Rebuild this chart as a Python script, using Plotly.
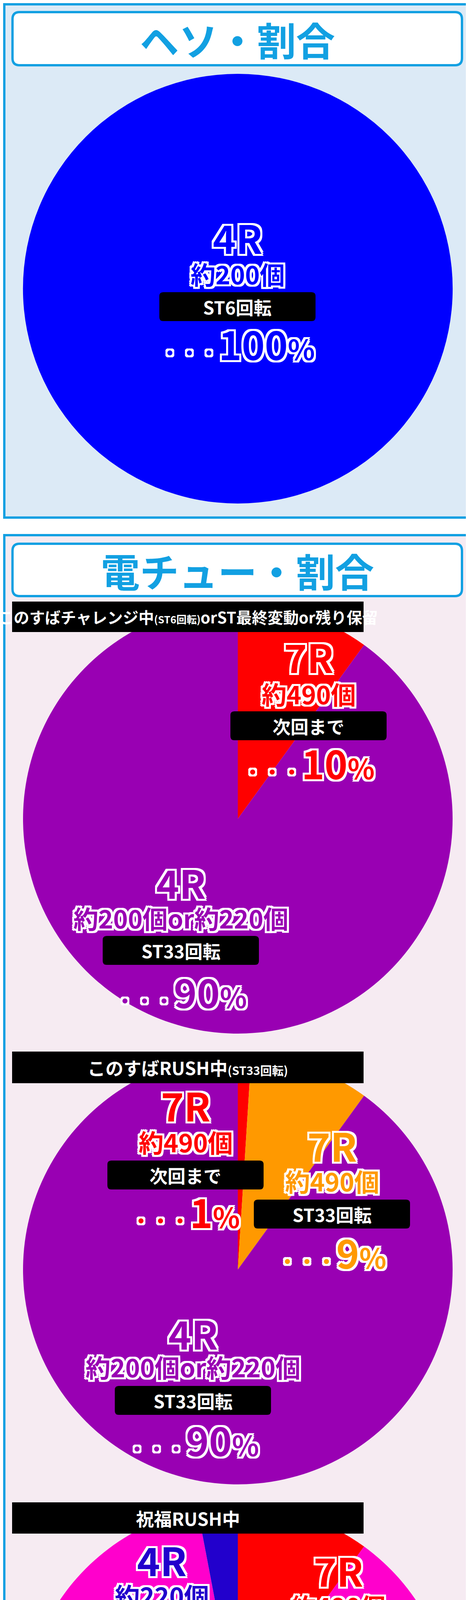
import plotly.graph_objects as go

# data
heso_labels = ["4R 約200個 ST6回転"]
heso_values = [100]
heso_colors = ["#0000ff"]

chal_labels = ["7R 約490個 次回まで", "4R 約200個or約220個 ST33回転"]
chal_values = [10, 90]
chal_colors = ["#ff0000", "#9900b3"]

rush_labels = ["7R 約490個 次回まで", "7R 約490個 ST33回転", "4R 約200個or約220個 ST33回転"]
rush_values = [1, 9, 90]
rush_colors = ["#ff0000", "#ff9900", "#9900b3"]

shuku_labels = ["7R 約490個 次回まで", "4R 約200個or約220個 次回まで", "4R 約220個 ST33回転"]
shuku_values = [10, 87, 3]
shuku_colors = ["#ff0000", "#ff00cc", "#2200cc"]

W, H = 1201, 5025
FONT = "Noto Sans CJK JP"
CYAN = "#12a0e2"
R = 550
CX = 601

fig = go.Figure()


def add_pie(labels, values, colors, cy):
    fig.add_trace(go.Pie(
        labels=labels, values=values, sort=False, direction="clockwise",
        rotation=0, marker=dict(colors=colors, line=dict(width=0)),
        textinfo="none", hoverinfo="label+percent", showlegend=False,
        domain=dict(x=[(CX - R) / W, (CX + R) / W],
                    y=[1 - (cy + R) / H, 1 - (cy - R) / H]),
    ))


add_pie(heso_labels, heso_values, heso_colors, 731)
add_pie(chal_labels, chal_values, chal_colors, 2088)
add_pie(rush_labels, rush_values, rush_colors, 3242)
add_pie(shuku_labels, shuku_values, shuku_colors, 4396)

shapes = []


def rrect(x0, y0, x1, y1, r, fill, line=None, lw=0, layer="above"):
    p = (f"M{x0+r},{y0} L{x1-r},{y0} Q{x1},{y0} {x1},{y0+r} L{x1},{y1-r} "
         f"Q{x1},{y1} {x1-r},{y1} L{x0+r},{y1} Q{x0},{y1} {x0},{y1-r} "
         f"L{x0},{y0+r} Q{x0},{y0} {x0+r},{y0} Z")
    shapes.append(dict(type="path", path=p, xref="x", yref="y", fillcolor=fill,
                       line=dict(color=line or fill, width=lw), layer=layer))


# panels
shapes.append(dict(type="rect", x0=3, y0=3, x1=1198, y1=1317, xref="x", yref="y",
                   fillcolor="#dceaf6", line=dict(color=CYAN, width=6), layer="below"))
shapes.append(dict(type="rect", x0=3, y0=1362, x1=1198, y1=4974, xref="x", yref="y",
                   fillcolor="#f6ebf2", line=dict(color=CYAN, width=6), layer="below"))
rrect(24, 23, 1175, 159, 18, "white", CYAN, 6)
rrect(24, 1384, 1175, 1518, 18, "white", CYAN, 6)

# subtitle bars
for y0, y1 in [(1532, 1610), (2684, 2765), (3838, 3918)]:
    shapes.append(dict(type="rect", x0=23, y0=y0, x1=923, y1=y1, xref="x", yref="y",
                       fillcolor="black", line=dict(width=0), layer="above"))

annotations = []


def txt(x, y, s, size, color="white", shadow=None):
    f = dict(family=FONT, size=size, color=color, weight="bold")
    if shadow:
        f["shadow"] = shadow
    annotations.append(dict(x=x, y=y, xref="x", yref="y", text=s, showarrow=False,
                            font=f, xanchor="center", yanchor="middle"))


o = 5
OUT = ", ".join(f"{dx}px {dy}px 0 #fff" for dx in (-o, 0, o) for dy in (-o, 0, o)
                if dx or dy)


def block(x, y_r, y_n, y_box, y_pct, r_txt, n_txt, box_txt, pct, color):
    txt(x, y_r, r_txt, 100, color, OUT)
    txt(x, y_n, n_txt, 64, color, OUT)
    rrect(x - 200, y_box - 37, x + 200, y_box + 37, 10, "black")
    txt(x, y_box, box_txt, 46, "white")
    txt(x, y_pct,
        f'<span style="font-size:50px">・・・</span>{pct}<span style="font-size:72px">%</span>',
        100, color, OUT)


txt(600, 91, "ヘソ・割合", 100, CYAN)
txt(600, 1451, "電チュー・割合", 100, CYAN)

block(600, 598, 692, 777, 870, "4R", "約200個", "ST6回転", "100", "#0000ff")

txt(473, 1571, 'このすばチャレンジ中<span style="font-size:26px">(ST6回転)</span>orST最終変動or残り保留',
    40, "white")
block(782, 1671, 1767, 1850, 1943, "7R", "約490個", "次回まで", "10", "#ff0000")
block(455, 2249, 2341, 2425, 2529, "4R", "約200個or約220個", "ST33回転", "90", "#9900b3")

txt(473, 2724, 'このすばRUSH中<span style="font-size:30px">(ST33回転)</span>', 46, "white")
block(467, 2819, 2914, 3000, 3092, "7R", "約490個", "次回まで", "1", "#ff0000")
block(842, 2922, 3014, 3100, 3196, "7R", "約490個", "ST33回転", "9", "#ff9900")
block(486, 3403, 3490, 3577, 3676, "4R", "約200個or約220個", "ST33回転", "90", "#9900b3")

txt(473, 3878, "祝福RUSH中", 46, "white")
block(406, 3983, 4075, 4159, 4255, "4R", "約220個", "ST33回転", "3", "#2200cc")
block(858, 4010, 4102, 4187, 4282, "7R", "約490個", "次回まで", "10", "#ff0000")
block(567, 4562, 4650, 4738, 4830, "4R", "約200個or約220個", "次回まで", "87", "#ff00cc")

annotations.append(dict(x=1190, y=5003, xref="x", yref="y", showarrow=False,
                        xanchor="right", yanchor="middle",
                        text="※払い出し出玉 ※数値等は独自調査によるものです",
                        font=dict(family=FONT, size=26, color="#222")))

fig.update_layout(
    width=W, height=H, margin=dict(l=0, r=0, t=0, b=0),
    paper_bgcolor="white", plot_bgcolor="rgba(0,0,0,0)",
    xaxis=dict(range=[0, W], visible=False, fixedrange=True),
    yaxis=dict(range=[H, 0], visible=False, fixedrange=True),
    shapes=shapes, annotations=annotations,
)
fig.write_html("out.html")
